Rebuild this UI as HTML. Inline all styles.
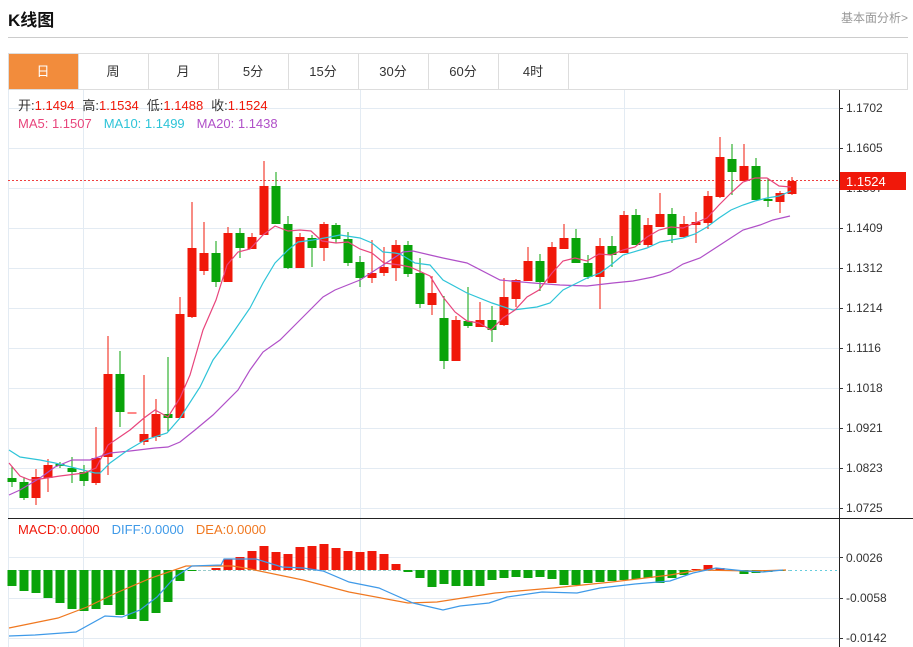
<!DOCTYPE html>
<html><head><meta charset="utf-8"><style>
body{margin:0;background:#fff;width:913px;height:647px;overflow:hidden;font-family:"Liberation Sans","Noto Sans CJK SC",sans-serif;}
.abs{position:absolute;}
</style></head><body>
<div class="abs" style="left:8px;top:6px;font-size:17px;font-weight:bold;color:#111;">K线图</div>
<div class="abs" style="right:5px;top:9px;font-size:12px;color:#999;">基本面分析&gt;</div>
<div class="abs" style="left:8px;top:37px;width:900px;height:1px;background:#ccc;"></div>
<svg class="abs" style="left:0;top:0" width="913" height="647" xmlns="http://www.w3.org/2000/svg" font-family="Liberation Sans, Noto Sans CJK SC, sans-serif">
<rect x="8.5" y="53.5" width="899" height="36" fill="#fff" stroke="#ddd"/>
<rect x="9" y="54" width="69" height="35" fill="#f28c3c"/>
<g stroke="#ddd"><line x1="78.5" y1="54" x2="78.5" y2="89"/><line x1="148.5" y1="54" x2="148.5" y2="89"/><line x1="218.5" y1="54" x2="218.5" y2="89"/><line x1="288.5" y1="54" x2="288.5" y2="89"/><line x1="358.5" y1="54" x2="358.5" y2="89"/><line x1="428.5" y1="54" x2="428.5" y2="89"/><line x1="498.5" y1="54" x2="498.5" y2="89"/><line x1="568.5" y1="54" x2="568.5" y2="89"/></g>
<g font-size="13" text-anchor="middle" fill="#333"><text x="43" y="76" fill="#fff">日</text><text x="113" y="76">周</text><text x="183" y="76">月</text><text x="253" y="76">5分</text><text x="323" y="76">15分</text><text x="393" y="76">30分</text><text x="463" y="76">60分</text><text x="533" y="76">4时</text></g>
<g stroke="#e3ebf3" stroke-width="1">
<line x1="8" y1="108.5" x2="839" y2="108.5"/><line x1="8" y1="148.5" x2="839" y2="148.5"/><line x1="8" y1="188.5" x2="839" y2="188.5"/><line x1="8" y1="228.5" x2="839" y2="228.5"/><line x1="8" y1="268.5" x2="839" y2="268.5"/><line x1="8" y1="308.5" x2="839" y2="308.5"/><line x1="8" y1="348.5" x2="839" y2="348.5"/><line x1="8" y1="388.5" x2="839" y2="388.5"/><line x1="8" y1="428.5" x2="839" y2="428.5"/><line x1="8" y1="468.5" x2="839" y2="468.5"/><line x1="8" y1="508.5" x2="839" y2="508.5"/>
<line x1="8" y1="557.5" x2="839" y2="557.5"/><line x1="8" y1="598.5" x2="839" y2="598.5"/><line x1="8" y1="638.5" x2="839" y2="638.5"/>
<line x1="83.5" y1="90" x2="83.5" y2="647"/><line x1="360.5" y1="90" x2="360.5" y2="647"/><line x1="624.5" y1="90" x2="624.5" y2="647"/><line x1="8.5" y1="90" x2="8.5" y2="647"/>
</g>
<line x1="839.5" y1="90" x2="839.5" y2="647" stroke="#222"/>
<line x1="8" y1="518.5" x2="913" y2="518.5" stroke="#222"/>
<g font-size="12" fill="#333">
<text x="846" y="112">1.1702</text><text x="846" y="152">1.1605</text><text x="846" y="192">1.1507</text><text x="846" y="232">1.1409</text><text x="846" y="272">1.1312</text><text x="846" y="312">1.1214</text><text x="846" y="352">1.1116</text><text x="846" y="392">1.1018</text><text x="846" y="432">1.0921</text><text x="846" y="472">1.0823</text><text x="846" y="512">1.0725</text>
<text x="846" y="562">0.0026</text><text x="846" y="602">-0.0058</text><text x="846" y="642">-0.0142</text>
</g>
<g stroke="#333"><line x1="839" y1="108.5" x2="843" y2="108.5"/><line x1="839" y1="148.5" x2="843" y2="148.5"/><line x1="839" y1="188.5" x2="843" y2="188.5"/><line x1="839" y1="228.5" x2="843" y2="228.5"/><line x1="839" y1="268.5" x2="843" y2="268.5"/><line x1="839" y1="308.5" x2="843" y2="308.5"/><line x1="839" y1="348.5" x2="843" y2="348.5"/><line x1="839" y1="388.5" x2="843" y2="388.5"/><line x1="839" y1="428.5" x2="843" y2="428.5"/><line x1="839" y1="468.5" x2="843" y2="468.5"/><line x1="839" y1="508.5" x2="843" y2="508.5"/><line x1="839" y1="557.5" x2="843" y2="557.5"/><line x1="839" y1="598.5" x2="843" y2="598.5"/><line x1="839" y1="638.5" x2="843" y2="638.5"/></g>
<g font-size="13"><text x="18" y="110" fill="#333">开:<tspan fill="#f0180a">1.1494</tspan><tspan dx="8">高:</tspan><tspan fill="#f0180a">1.1534</tspan><tspan dx="8">低:</tspan><tspan fill="#f0180a">1.1488</tspan><tspan dx="8">收:</tspan><tspan fill="#f0180a">1.1524</tspan></text>
<text x="18" y="128" fill="#e8457c">MA5: 1.1507<tspan dx="12" fill="#2ec4d8">MA10: 1.1499</tspan><tspan dx="12" fill="#b050c8">MA20: 1.1438</tspan></text>
<text x="18" y="534" fill="#f0180a">MACD:0.0000<tspan dx="12" fill="#3f9ae8">DIFF:0.0000</tspan><tspan dx="12" fill="#f07820">DEA:0.0000</tspan></text></g>
<line x1="8" y1="180.5" x2="839" y2="180.5" stroke="#f04040" stroke-dasharray="2,2"/>
<line x1="8" y1="570.5" x2="790" y2="570.5" stroke="#9cc" stroke-dasharray="3,2"/>
<line x1="790" y1="570.5" x2="839" y2="570.5" stroke="#6cd" stroke-dasharray="2,3"/>
<g id="c"></g>
<g id="h"></g>
<g fill="none" stroke-width="1.2">
<polyline stroke="#b050c8" points="9,495 20,490 40,478 55,467 72,460 90,460 110,453 130,451 155,448 168,447 180,442 195,430 213,415 238,390 250,370 263,352 280,340 300,320 323,297 335,290 360,280 380,267 403,252 413,251 430,255 443,258 467,263 500,280 533,283 560,285 587,286 613,283 633,281 653,277 670,272 683,264 700,258 720,245 743,230 760,225 773,220 790,216"/>
<polyline stroke="#2ec4d8" points="9,450 20,457 40,460 55,463 95,473 100,473 110,463 128,450 145,440 167,433 180,418 200,387 213,360 228,340 250,308 263,283 275,263 288,250 298,242 313,240 330,237 340,235 360,238 372,243 383,252 395,253 400,254 415,263 430,265 443,280 467,293 492,303 513,310 537,307 550,303 563,290 587,278 600,273 611,265 623,255 647,248 660,242 683,238 695,234 707,227 719,218 731,210 743,205 755,201 767,198 779,196 791,191"/>
<polyline stroke="#e8457c" points="9,463 20,476 30,480 40,479 60,476 84,473 96,468 108,445 130,430 144,418 155,410 168,417 180,398 190,375 203,330 216,300 227,265 238,252 250,249 263,235 275,226 288,231 300,230 311,231 322,241 336,243 348,242 360,249 372,253 384,263 400,265 410,267 430,276 443,297 455,312 467,321 479,323 491,330 503,318 515,310 527,297 539,290 552,273 563,261 575,258 587,261 599,254 611,255 623,250 635,247 647,237 659,230 671,227 683,228 695,223 707,218 719,205 731,193 743,182 755,178 767,178 779,186 791,187"/>
<polyline stroke="#f07820" points="9,628 58,618 87,607 116,593 151,578 186,566 233,566 250,569 303,580 349,592 408,603 437,602 495,593 553,588 612,582 670,575 699,570 751,571 786,570"/>
<polyline stroke="#3f9ae8" points="9,636 35,635 76,632 105,616 122,617 140,610 157,597 175,577 192,566 221,565 224,559 256,559 282,567 303,568 323,571 349,582 379,588 413,603 443,610 460,606 489,603 507,597 542,592 577,593 600,588 635,584 670,581 693,573 716,568 745,571 763,572 783,570"/>
</g>
<rect x="840" y="172" width="66" height="18" fill="#f0180a"/>
<text x="846" y="186" font-size="13" fill="#fff">1.1524</text>
</svg>
<script>
var R="#f0180a",G="#0aa30a";
var d=[["g",478,482,466,487],["g",482,498,477,500],["r",477,498,469,505],["r",465,478,459,492],["g",464,466,462,468],["g",468,472,457,483],["g",472,481,465,486],["r",458,483,427,485],["r",374,457,336,475],["g",374,412,351,427],["p",412,414,412,414],["r",434,442,375,445],["r",414,437,399,441],["g",414,418,357,432],["r",314,418,297,418],["r",248,317,202,318],["r",253,271,222,275],["g",253,282,241,287],["r",233,282,227,282],["g",233,248,228,258],["r",237,249,233,249],["r",186,235,161,235],["g",186,224,172,224],["g",224,268,216,269],["r",237,268,233,268],["g",238,248,235,267],["r",224,248,222,261],["g",225,239,223,243],["g",239,263,232,266],["g",262,278,256,287],["r",273,278,240,283],["r",267,273,247,276],["r",245,268,240,281],["g",245,274,241,277],["g",273,304,258,308],["r",293,305,276,315],["g",318,361,296,369],["r",320,361,316,361],["g",321,326,287,328],["r",320,327,302,327],["g",320,330,306,342],["r",297,325,278,326],["r",280,299,279,307],["r",261,281,247,281],["g",261,282,254,291],["r",247,283,242,283],["r",238,249,224,249],["g",238,263,229,263],["g",263,277,255,279],["r",246,277,238,309],["g",246,255,236,267],["r",215,253,211,253],["g",215,245,209,245],["r",225,245,218,248],["r",214,227,193,227],["g",214,235,208,243],["r",224,237,216,237],["r",222,225,212,243],["r",196,223,191,229],["r",157,197,137,198],["g",159,172,144,195],["r",166,181,144,181],["g",166,200,158,200],["g",199,201,178,207],["r",193,202,191,213],["r",181,194,177,195]];
var s="";
d.forEach(function(c,i){var x=12+12*i,col=c[0]=="r"?R:c[0]=="g"?G:"#f88";
s+='<line x1="'+x+'" x2="'+x+'" y1="'+c[3]+'" y2="'+c[4]+'" stroke="'+col+'"/><rect x="'+(x-4.5)+'" y="'+c[1]+'" width="9" height="'+Math.max(1,c[2]-c[1])+'" fill="'+col+'"/>';});
document.getElementById("c").innerHTML=s;
var h=[586,591,593,598,603,609,611,609,605,615,619,621,613,602,581,571,570,568,559,557,551,546,552,554,547,546,544,548,551,552,551,554,564,572,578,587,584,586,586,586,580,578,577,578,577,579,585,585,583,582,581,580,579,578,583,578,575,569,565,568,570,574,573,572,571,570];
var t="";
h.forEach(function(v,i){var x=12+12*i;var up=v<570;
if(i==32)up=true;
var y=up?v:570,hh=Math.abs(v-570);if(i==32){y=564;hh=6;}
if(hh<1)return;
t+='<rect x="'+(x-4.5)+'" y="'+y+'" width="9" height="'+hh+'" fill="'+(up?R:G)+'"/>';});
document.getElementById("h").innerHTML=t;
</script>
</body></html>
